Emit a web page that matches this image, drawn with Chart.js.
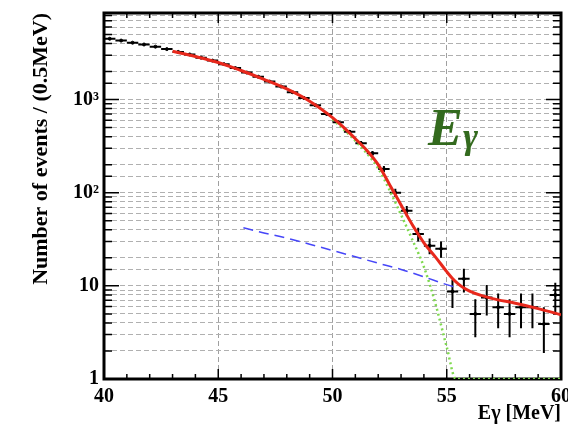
<!DOCTYPE html>
<html>
<head>
<meta charset="utf-8">
<script src="https://cdn.jsdelivr.net/npm/chart.js@4.4.1/dist/chart.umd.min.js"></script>
<style>
  html, body { margin: 0; padding: 0; background: #fff; }
  #wrap { width: 568px; height: 428px; }
</style>
</head>
<body>
<div id="wrap"><canvas id="grafico"></canvas></div>
<script>
// bins de 0.5 MeV (centro do bin)
const binCentros = [40.25, 40.75, 41.25, 41.75, 42.25, 42.75, 43.25, 43.75, 44.25, 44.75,
  45.25, 45.75, 46.25, 46.75, 47.25, 47.75, 48.25, 48.75, 49.25, 49.75,
  50.25, 50.75, 51.25, 51.75, 52.25, 52.75, 53.25, 53.75, 54.25, 54.75,
  55.25, 55.75, 56.25, 56.75, 57.25, 57.75, 58.25, 58.75, 59.25, 59.75];
const eventos = [4500, 4300, 4080, 3900, 3700, 3480, 3250, 3050, 2820, 2620,
  2400, 2180, 1950, 1760, 1560, 1380, 1200, 1040, 870, 700,
  570, 450, 340, 265, 180, 100, 64, 36, 27, 25,
  8.7, 11.9, 5.0, 7.5, 5.9, 5.0, 5.9, 5.9, 3.9, 8.0];
const erros = [67, 66, 64, 62, 61, 59, 57, 55, 53, 51,
  49, 47, 44, 42, 39, 37, 35, 32, 29.5, 26.5,
  24, 21, 18.4, 16.3, 13.4, 10, 8, 6, 5.2, 5,
  2.9, 3.4, 2.2, 2.7, 2.4, 2.2, 2.4, 2.4, 2.0, 2.8];

// ajuste total (vermelho)
const ajusteX = [43, 44, 45, 46, 47, 48, 49, 50, 50.5, 51, 51.5, 52, 52.5, 53, 53.5, 54, 54.5, 55, 55.25, 55.5, 55.75, 56, 56.5, 57, 58, 59, 60];
const ajusteY = [3300, 2900, 2500, 2050, 1650, 1300, 960, 640, 500, 380, 285, 200, 122, 74, 45, 29, 20.5, 14.2, 12, 10.5, 9.5, 8.8, 7.9, 7.3, 6.5, 5.7, 4.9];

// fundo (azul tracejado)
const fundoX = [46.1, 47, 48, 49, 50, 51, 52, 53, 54, 55, 55.4];
const fundoY = [42, 37, 32.5, 28, 24, 20.5, 17.5, 15, 12.5, 10.3, 9.6];

// sinal (verde pontilhado)
const sinalX = [50, 51, 52, 52.5, 53, 53.5, 54, 54.5, 55, 55.4, 60];
const sinalY = [616, 360, 182, 106, 58, 31, 16, 6.5, 2.2, 1, 1];

const pares = (xs, ys) => xs.map((x, i) => ({ x: x, y: ys[i] }));

const fonteSerif = "'Liberation Serif', 'DejaVu Serif', serif";

const moldura = {
  id: 'moldura',
  beforeDatasetsDraw(chart) {
    const { ctx, chartArea: a, scales: { x, y } } = chart;
    ctx.save();
    ctx.strokeStyle = '#000';
    ctx.lineWidth = 1.5;
    // marcas internas do eixo x
    x.ticks.forEach(t => {
      const px = x.getPixelForValue(t.value);
      const len = t.value % 5 === 0 ? 10 : 5;
      ctx.beginPath();
      ctx.moveTo(px, a.bottom); ctx.lineTo(px, a.bottom - len);
      ctx.moveTo(px, a.top); ctx.lineTo(px, a.top + len);
      ctx.stroke();
    });
    // marcas internas do eixo y
    y.ticks.forEach(t => {
      const py = y.getPixelForValue(t.value);
      const lg = Math.log10(t.value);
      const len = Math.abs(lg - Math.round(lg)) < 1e-9 ? 15 : 8;
      ctx.beginPath();
      ctx.moveTo(a.left, py); ctx.lineTo(a.left + len, py);
      ctx.moveTo(a.right, py); ctx.lineTo(a.right - len, py);
      ctx.stroke();
    });
    ctx.lineWidth = 3;
    ctx.strokeRect(a.left, a.top, a.right - a.left, a.bottom - a.top);

    // barras de erro
    ctx.beginPath();
    ctx.rect(a.left, a.top, a.right - a.left, a.bottom - a.top);
    ctx.clip();
    ctx.lineWidth = 2;
    binCentros.forEach((c, i) => {
      const px0 = x.getPixelForValue(c - 0.25);
      const px1 = x.getPixelForValue(c + 0.25);
      const px = x.getPixelForValue(c);
      const py = y.getPixelForValue(eventos[i]);
      const lo = y.getPixelForValue(Math.max(eventos[i] - erros[i], 0.5));
      const hi = y.getPixelForValue(eventos[i] + erros[i]);
      ctx.beginPath();
      ctx.moveTo(px0, py); ctx.lineTo(px1, py);
      ctx.moveTo(px, lo); ctx.lineTo(px, hi);
      ctx.stroke();
    });
    ctx.restore();
  },
  afterDraw(chart) {
    const { ctx } = chart;
    ctx.save();
    ctx.fillStyle = '#336a1e';
    ctx.textBaseline = 'alphabetic';
    ctx.font = "bold italic 52px " + fonteSerif;
    ctx.fillText('E', 428, 145);
    ctx.font = "bold italic 36px " + fonteSerif;
    ctx.fillText('\u03b3', 463, 148);
    ctx.restore();
  }
};

const ctx = document.getElementById('grafico');

new Chart(ctx, {
  type: 'scatter',
  data: {
    datasets: [
      {
        label: 'dados',
        data: pares(binCentros, eventos),
        backgroundColor: '#000',
        borderColor: '#000',
        pointRadius: 1.5,
        order: 4
      },
      {
        label: 'ajuste',
        data: pares(ajusteX, ajusteY),
        showLine: true,
        borderColor: '#e8281c',
        borderWidth: 3,
        pointRadius: 0,
        cubicInterpolationMode: 'monotone',
        order: 1
      },
      {
        label: 'fundo',
        data: pares(fundoX, fundoY),
        showLine: true,
        borderColor: '#4646f8',
        borderWidth: 1.5,
        borderDash: [10, 6],
        pointRadius: 0,
        cubicInterpolationMode: 'monotone',
        order: 2
      },
      {
        label: 'sinal',
        data: pares(sinalX, sinalY),
        showLine: true,
        borderColor: '#7fd94f',
        borderWidth: 2.5,
        borderDash: [2, 3],
        pointRadius: 0,
        cubicInterpolationMode: 'monotone',
        order: 3
      }
    ]
  },
  options: {
    responsive: true,
    maintainAspectRatio: false,
    animation: false,
    layout: { padding: { left: 25, right: 7, top: 13, bottom: 0 } },
    plugins: {
      legend: { display: false },
      tooltip: { enabled: false }
    },
    scales: {
      x: {
        type: 'linear',
        min: 40,
        max: 60,
        afterFit: s => { s.height = 49; s.paddingLeft = 0; s.paddingRight = 0; },
        grid: {
          color: c => (c.tick && c.tick.value % 5 === 0 ? '#a0a0a0' : 'rgba(0,0,0,0)'),
          drawTicks: false
        },
        border: { display: false, dash: [5, 3] },
        ticks: {
          stepSize: 1,
          autoSkip: false,
          maxRotation: 0,
          padding: 6,
          color: '#000',
          font: { family: fonteSerif, size: 20, weight: 'bold' },
          callback: v => (v % 5 === 0 ? String(v) : '')
        },
        title: {
          display: true,
          text: 'E\u03b3 [MeV]',
          align: 'end',
          color: '#000',
          font: { family: fonteSerif, size: 20, weight: 'bold' },
          padding: { top: 0, bottom: 2 }
        }
      },
      y: {
        type: 'logarithmic',
        min: 1,
        max: 8500,
        afterFit: s => { s.width = 79; s.paddingTop = 0; s.paddingBottom = 0; },
        grid: { color: '#b0b0b0', lineWidth: 1, drawTicks: false },
        border: { display: false, dash: [5, 3] },
        ticks: {
          autoSkip: false,
          padding: 5,
          color: '#000',
          font: { family: fonteSerif, size: 20, weight: 'bold' },
          callback: v => ({ 1: '1', 10: '10', 100: '10\u00b2', 1000: '10\u00b3' })[v] ?? ''
        },
        title: {
          display: true,
          text: 'Number of events / (0.5MeV)',
          align: 'end',
          color: '#000',
          font: { family: fonteSerif, size: 22, weight: 'bold' },
          padding: { top: 3, bottom: 0 }
        }
      }
    }
  },
  plugins: [moldura]
});
</script>
</body>
</html>
